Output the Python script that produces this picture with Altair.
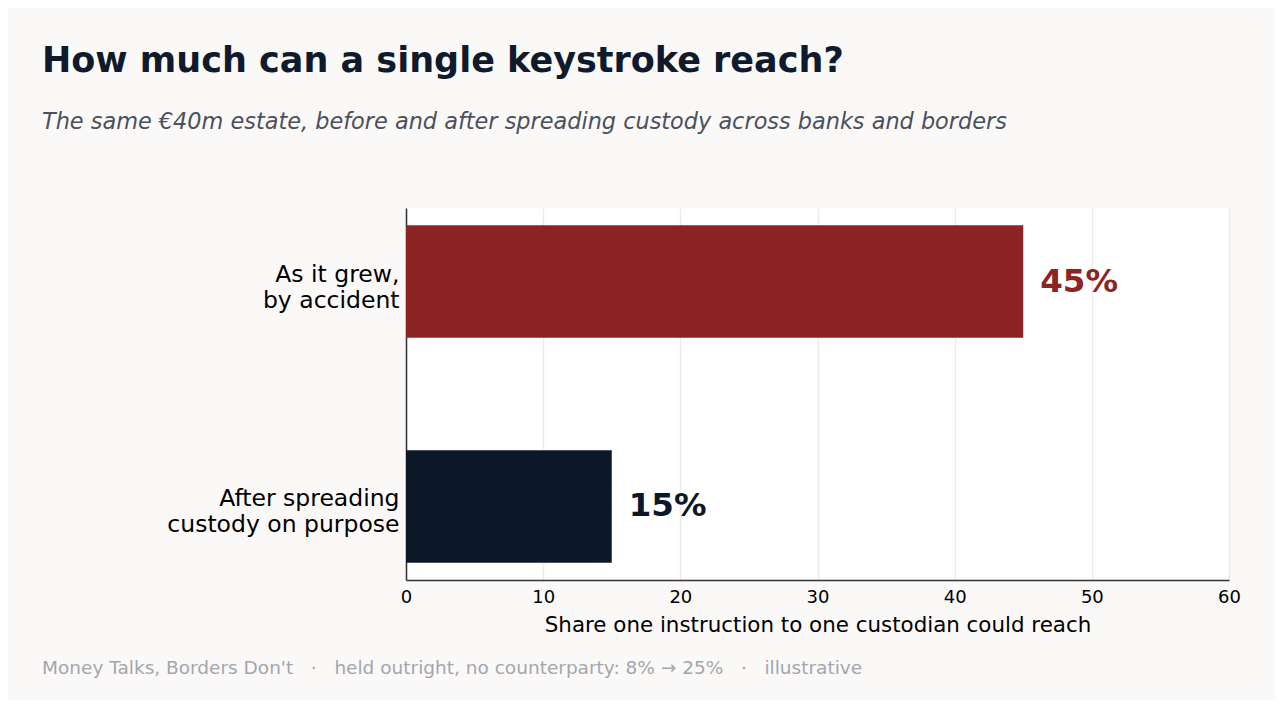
import altair as alt
import pandas as pd

# categories and values
scenarios = ["As it grew,\nby accident", "After spreading\ncustody on purpose"]
shares = [45, 15]
value_labels = ["45%", "15%"]
bar_colors = ["#8c2424", "#0c1828"]

title_text = "How much can a single keystroke reach?"
subtitle_text = "The same €40m estate, before and after spreading custody across banks and borders"
sep = "\u00a0\u00a0\u00a0·\u00a0\u00a0\u00a0"
footer_text = "Money Talks, Borders Don't" + sep + "held outright, no counterparty: 8% → 25%" + sep + "illustrative"

df = pd.DataFrame({"scenario": scenarios, "share": shares, "label": value_labels, "color": bar_colors})

y_enc = alt.Y("scenario:N", sort=scenarios, title=None,
              scale=alt.Scale(paddingInner=0.5, paddingOuter=0.077),
              axis=alt.Axis(labelExpr="split(datum.label, '\\n')", labelFontSize=23.5,
                            labelLineHeight=26, labelColor="#000000", labelPadding=7,
                            labelOffset=-7, labelLimit=400, ticks=False,
                            domainColor="#333333", domainWidth=1.5, labelFont="DejaVu Sans"))

bars = alt.Chart(df).mark_bar().encode(
    x=alt.X("share:Q", scale=alt.Scale(domain=[0, 60], nice=False),
            title="Share one instruction to one custodian could reach",
            axis=alt.Axis(values=[0, 10, 20, 30, 40, 50, 60], ticks=False, labelFontSize=18,
                          labelFlush=False, labelColor="#000000", labelPadding=8,
                          titleFontSize=21.4, titleFontWeight="normal", titleColor="#000000",
                          titlePadding=8, domainColor="#333333", domainWidth=1.5,
                          gridColor="#ebebeb", gridWidth=1.5, labelFont="DejaVu Sans",
                          titleFont="DejaVu Sans")),
    y=y_enc,
    color=alt.Color("color:N", scale=None),
)

labels = alt.Chart(df).mark_text(align="left", baseline="middle", dx=17, fontSize=32.5,
                                 fontWeight="bold", font="DejaVu Sans").encode(
    x="share:Q",
    y=alt.Y("scenario:N", sort=scenarios),
    text="label:N",
    color=alt.Color("color:N", scale=None),
)

footer = alt.Chart(pd.DataFrame({"t": [footer_text]})).mark_text(
    align="left", baseline="alphabetic", fontSize=18.5, color="#a2a6ae", font="DejaVu Sans"
).encode(x=alt.value(-364), y=alt.value(466), text="t:N")

chart = alt.layer(bars, labels, footer).properties(
    width=823,
    height=372,
    autosize=alt.AutoSizeParams(type="none"),
    padding={"left": 398, "top": 200, "right": 46, "bottom": 120},
    background="#faf9f7",
    title=alt.TitleParams(
        text=title_text,
        subtitle=subtitle_text,
        anchor="start",
        frame="group",
        dx=-364,
        offset=75,
        fontSize=35,
        fontWeight="bold",
        color="#0f1b2d",
        font="DejaVu Sans",
        subtitleFont="DejaVu Sans",
        subtitleFontSize=22.4,
        subtitleFontStyle="italic",
        subtitleColor="#4b505c",
        subtitlePadding=32,
    ),
).configure_view(fill="#ffffff", stroke=None)

chart.save("out.html", embed_options={"renderer": "svg", "actions": False})
